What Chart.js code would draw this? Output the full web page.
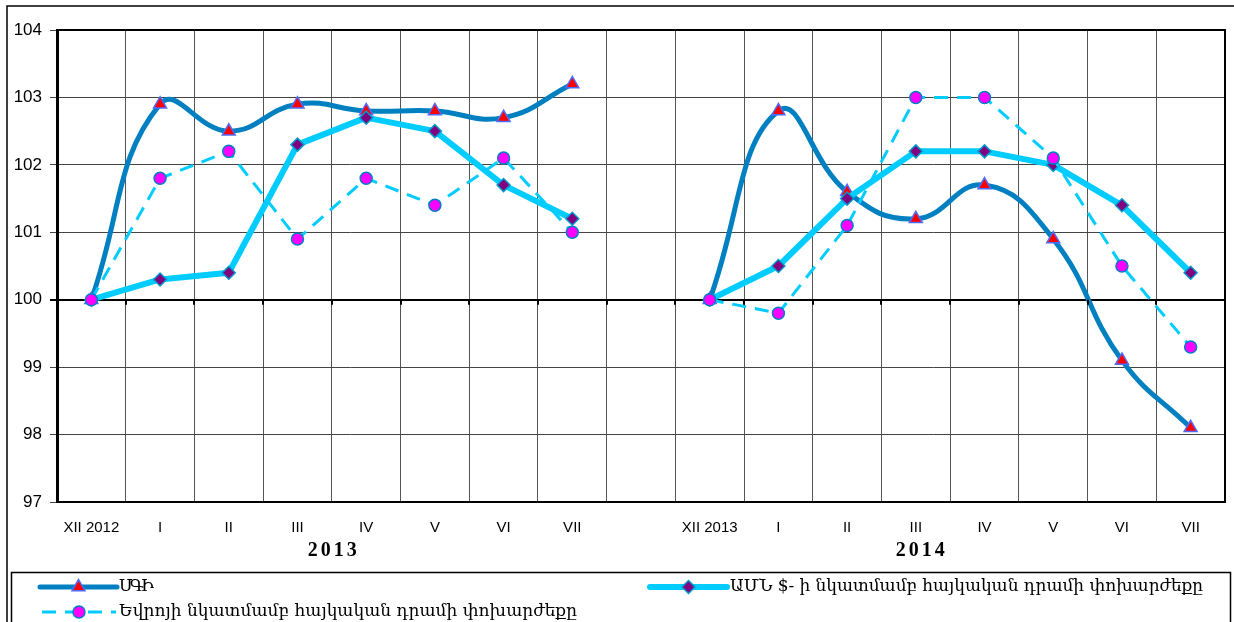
<!DOCTYPE html>
<html>
<head>
<meta charset="utf-8">
<script src="https://cdn.jsdelivr.net/npm/chart.js@4.4.1/dist/chart.umd.min.js"></script>
<style>
  body { margin: 0; background: #fff; }
</style>
</head>
<body>
<canvas id="myChart" width="1234" height="622"></canvas>
<script>
const months2013 = ['XII 2012', 'I', 'II', 'III', 'IV', 'V', 'VI', 'VII'];
const months2014 = ['XII 2013', 'I', 'II', 'III', 'IV', 'V', 'VI', 'VII'];
const years = ['2013', '2014'];

const cpi2013 = [100, 102.9, 102.5, 102.9, 102.8, 102.8, 102.7, 103.2];
const cpi2014 = [100, 102.8, 101.6, 101.2, 101.7, 100.9, 99.1, 98.1];
const usd2013 = [100, 100.3, 100.4, 102.3, 102.7, 102.5, 101.7, 101.2];
const usd2014 = [100, 100.5, 101.5, 102.2, 102.2, 102.0, 101.4, 100.4];
const eur2013 = [100, 101.8, 102.2, 100.9, 101.8, 101.4, 102.1, 101.0];
const eur2014 = [100, 99.8, 101.1, 103.0, 103.0, 102.1, 100.5, 99.3];

const seriesNames = [
    'ՍԳԻ',
    'ԱՄՆ $- ի նկատմամբ հայկական դրամի փոխարժեքը',
    'Եվրոյի նկատմամբ հայկական դրամի փոխարժեքը'
];

// one empty slot between the two years
const labels = [...months2013, '', ...months2014];
const join = (a, b) => [...a, null, ...b];

const chart = document.querySelector('#myChart');

// where each legend entry goes: sample line start/width, text start/width
const legendSpots = [
    { x: 40, y: 587, w: 77, tx: 119, tw: 32 },
    { x: 650, y: 587, w: 77, tx: 730, tw: 473 },
    { x: 42, y: 612, w: 74, tx: 119, tw: 458 }
];

const frame = {
    id: 'frame',
    beforeDraw(c) {
        const ctx = c.ctx;
        ctx.save();
        ctx.fillStyle = '#fff';
        ctx.fillRect(0, 0, c.width, c.height);
        ctx.restore();
    },
    afterDraw(c) {
        const ctx = c.ctx;
        const a = c.chartArea;
        const x = c.scales.x;
        const y = c.scales.y;
        ctx.save();

        // top and right edge of the plot box
        ctx.strokeStyle = '#000';
        ctx.lineWidth = 2;
        ctx.beginPath();
        ctx.moveTo(a.left, a.top);
        ctx.lineTo(a.right, a.top);
        ctx.lineTo(a.right, a.bottom);
        ctx.stroke();

        // little tick marks on the 100 line
        const y100 = y.getPixelForValue(100);
        const step = x.getPixelForValue(1) - x.getPixelForValue(0);
        ctx.lineWidth = 2;
        for (let i = 0; i <= labels.length; i++) {
            const px = Math.round(x.getPixelForValue(0) - step / 2 + i * step);
            ctx.beginPath();
            ctx.moveTo(px, y100);
            ctx.lineTo(px, y100 + 5);
            ctx.stroke();
        }

        // year captions
        ctx.fillStyle = '#000';
        ctx.font = 'bold 20px "Liberation Serif"';
        ctx.letterSpacing = '3px';
        ctx.textAlign = 'center';
        ctx.textBaseline = 'middle';
        const c1 = (x.getPixelForValue(0) + x.getPixelForValue(7)) / 2;
        const c2 = (x.getPixelForValue(8) + x.getPixelForValue(16)) / 2 + 4;
        ctx.fillText(years[0], c1 + 2, 551);
        ctx.fillText(years[1], c2 + 2, 551);
        ctx.letterSpacing = '0px';

        // outer frame
        ctx.lineWidth = 1.5;
        ctx.beginPath();
        ctx.moveTo(7, c.height);
        ctx.lineTo(7, 6);
        ctx.lineTo(c.width, 6);
        ctx.stroke();

        // legend box
        ctx.strokeRect(11.5, 572.5, 1219, 80);

        c.data.datasets.forEach((ds, i) => {
            const s = legendSpots[i];
            ctx.save();
            ctx.strokeStyle = ds.borderColor;
            ctx.lineWidth = ds.borderWidth;
            ctx.lineCap = ds.borderDash ? 'butt' : 'round';
            ctx.setLineDash(ds.borderDash || []);
            ctx.beginPath();
            ctx.moveTo(s.x, s.y);
            ctx.lineTo(s.x + s.w, s.y);
            ctx.stroke();
            ctx.restore();

            ctx.save();
            ctx.fillStyle = ds.pointBackgroundColor;
            ctx.strokeStyle = ds.pointBorderColor;
            ctx.lineWidth = ds.pointBorderWidth;
            Chart.helpers.drawPoint(ctx, {
                pointStyle: ds.pointStyle,
                radius: ds.pointRadius,
                borderWidth: ds.pointBorderWidth,
                rotation: 0
            }, s.x + s.w / 2, s.y);
            ctx.restore();

            ctx.fillStyle = '#000';
            ctx.font = '17px "DejaVu Serif"';
            ctx.textAlign = 'left';
            ctx.textBaseline = 'middle';
            ctx.letterSpacing = '0px';
            const w = ctx.measureText(ds.label).width;
            const sp = (s.tw - w) / ds.label.length;
            ctx.letterSpacing = sp + 'px';
            ctx.fillText(ds.label, s.tx, s.y);
            ctx.letterSpacing = '0px';
        });

        ctx.restore();
    }
};

new Chart(chart, {
    type: 'line',
    data: {
        labels: labels,
        datasets: [{
            label: seriesNames[0],
            data: join(cpi2013, cpi2014),
            borderColor: '#0080C0',
            borderWidth: 5,
            borderCapStyle: 'round',
            borderJoinStyle: 'round',
            tension: 0.45,
            pointStyle: 'triangle',
            pointRadius: 7.5,
            pointBackgroundColor: '#FF0000',
            pointBorderColor: '#4F6BFF',
            pointBorderWidth: 1.5,
            order: 2
        }, {
            label: seriesNames[1],
            data: join(usd2013, usd2014),
            borderColor: '#00CCFF',
            borderWidth: 6,
            borderCapStyle: 'round',
            borderJoinStyle: 'round',
            tension: 0,
            pointStyle: 'rectRot',
            pointRadius: 6.5,
            pointBackgroundColor: '#800080',
            pointBorderColor: '#0099CC',
            pointBorderWidth: 1.5,
            order: 1
        }, {
            label: seriesNames[2],
            data: join(eur2013, eur2014),
            borderColor: '#00CCFF',
            borderWidth: 3,
            borderDash: [14, 9],
            tension: 0,
            pointStyle: 'circle',
            pointRadius: 6,
            pointBackgroundColor: '#FF00FF',
            pointBorderColor: '#0080C0',
            pointBorderWidth: 1.5,
            order: 0
        }]
    },
    options: {
        responsive: false,
        animation: false,
        spanGaps: false,
        layout: { padding: { top: 30, right: 8, bottom: 62, left: 0 } },
        plugins: {
            legend: { display: false },
            tooltip: { enabled: false }
        },
        scales: {
            x: {
                offset: true,
                grid: {
                    offset: true,
                    color: '#555',
                    lineWidth: 1,
                    drawTicks: false
                },
                border: { color: '#000', width: 2 },
                ticks: {
                    autoSkip: false,
                    maxRotation: 0,
                    padding: 17,
                    color: '#000',
                    font: { family: 'Liberation Sans', size: 15 }
                },
                afterFit(scale) { scale.height = 58; }
            },
            y: {
                min: 97,
                max: 104,
                ticks: {
                    stepSize: 1,
                    padding: 8,
                    color: '#000',
                    font: { family: 'Liberation Sans', size: 17 }
                },
                grid: {
                    tickLength: 7,
                    color: (ctx) => ctx.tick && ctx.tick.value === 100 ? '#000' : '#444',
                    lineWidth: (ctx) => ctx.tick && ctx.tick.value === 100 ? 2 : 1
                },
                border: { color: '#000', width: 3 },
                afterFit(scale) { scale.width = 57; }
            }
        }
    },
    plugins: [frame]
});
</script>
</body>
</html>
